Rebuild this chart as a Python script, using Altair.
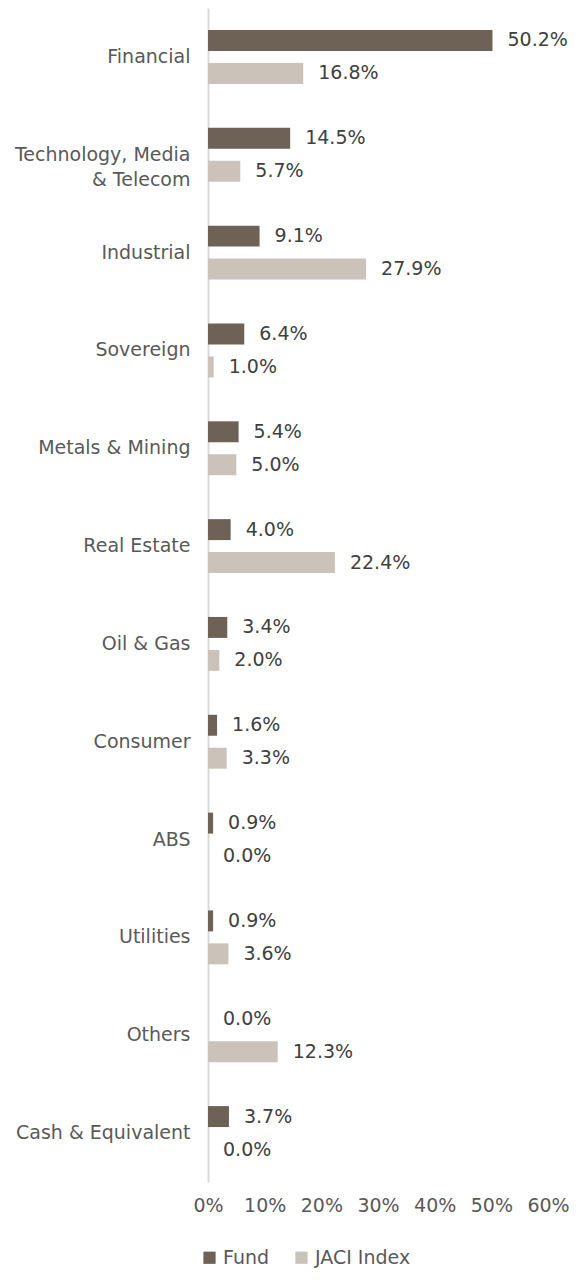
import altair as alt
import pandas as pd

categories = ["Financial", "Technology, Media & Telecom", "Industrial", "Sovereign",
              "Metals & Mining", "Real Estate", "Oil & Gas", "Consumer", "ABS",
              "Utilities", "Others", "Cash & Equivalent"]
fund = [50.2, 14.5, 9.1, 6.4, 5.4, 4.0, 3.4, 1.6, 0.9, 0.9, 0.0, 3.7]
jaci = [16.8, 5.7, 27.9, 1.0, 5.0, 22.4, 2.0, 3.3, 0.0, 3.6, 12.3, 0.0]
series = ["Fund", "JACI Index"]
x_ticks = [0, 10, 20, 30, 40, 50, 60]

rows = []
for c, f, j in zip(categories, fund, jaci):
    rows.append({"category": c, "series": series[0], "value": f})
    rows.append({"category": c, "series": series[1], "value": j})
df = pd.DataFrame(rows)

FONT = "DejaVu Sans"
FS = 19
TXT = "#595959"

y_enc = alt.Y("category:N", sort=categories,
              scale=alt.Scale(paddingInner=0.449, paddingOuter=0.225),
              axis=alt.Axis(title=None, ticks=False, domainColor="#d9d9d9", domainWidth=2,
                            labelFont=FONT, labelFontSize=FS, labelColor=TXT,
                            labelPadding=18, labelLimit=400, labelLineHeight=25,
                            labelExpr="datum.label == 'Technology, Media & Telecom' ? ['Technology, Media', '& Telecom'] : datum.label"))
yoff = alt.YOffset("series:N", sort=series, scale=alt.Scale(paddingInner=0.364, paddingOuter=0))
x_enc = alt.X("value:Q", scale=alt.Scale(domain=[0, 60], nice=False),
              axis=alt.Axis(title=None, values=x_ticks, grid=False, ticks=False, domain=False,
                            labelExpr="datum.value + '%'", labelFont=FONT, labelFontSize=FS,
                            labelColor=TXT, labelPadding=14, labelFlush=False))

base = alt.Chart(df).encode(y=y_enc, yOffset=yoff)

bars = base.mark_bar().encode(
    x=x_enc,
    color=alt.Color("series:N", sort=series,
                    scale=alt.Scale(domain=series, range=["#6e6256", "#cbc2b9"]),
                    legend=alt.Legend(title=None, orient="none", direction="horizontal",
                                      legendX=-8, legendY=1240, symbolType="square",
                                      symbolSize=150, symbolStrokeWidth=0,
                                      labelFont=FONT, labelFontSize=FS, labelColor=TXT,
                                      columnPadding=22, labelOffset=4)),
)

labels = base.transform_calculate(
    lbl="format(datum.value, '.1f') + '%'"
).mark_text(align="left", baseline="middle", dx=15, font=FONT, fontSize=FS, color="#404040").encode(
    x=alt.X("value:Q"),
    text="lbl:N",
)

chart = (bars + labels).properties(
    width=340, height=1174,
    autosize=alt.AutoSizeParams(type="none"),
    padding={"left": 200, "top": 0, "right": 26, "bottom": 90},
).configure_view(stroke=None)

chart.save("out.html", embed_options={"renderer": "svg", "actions": False})
